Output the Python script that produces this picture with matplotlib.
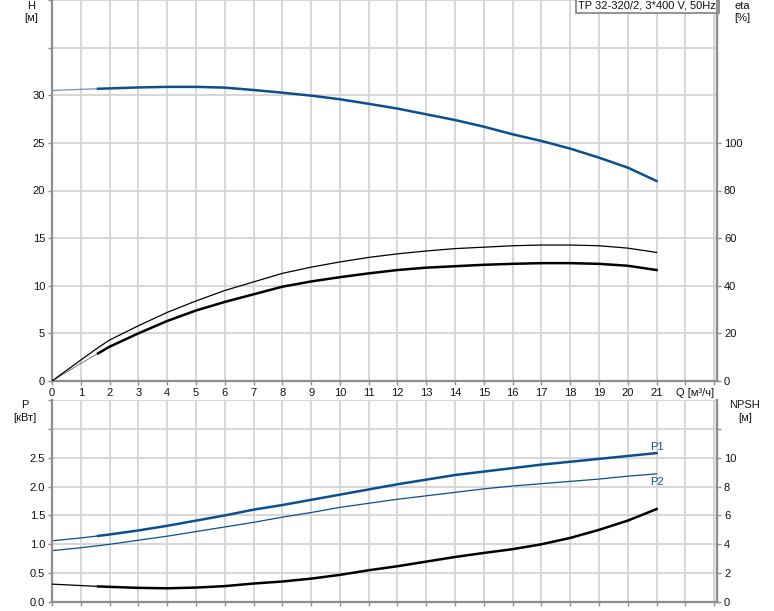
import matplotlib.pyplot as plt
import numpy as np

plt.rcParams['font.family'] = ['Liberation Sans', 'DejaVu Sans']
plt.rcParams['lines.solid_joinstyle'] = 'round'

# flow points [m3/h]
q = [0, 1, 1.6, 2, 3, 4, 5, 6, 7, 8, 9, 10, 11, 12, 13, 14, 15, 16, 17, 18, 19, 20, 21]
# head [m]
head = [30.5, 30.62, 30.68, 30.72, 30.82, 30.88, 30.88, 30.8, 30.55, 30.27, 29.96, 29.58,
        29.1, 28.6, 28.0, 27.4, 26.7, 25.9, 25.2, 24.4, 23.45, 22.4, 21.0]
# efficiencies [%]
eta_upper = [0, 8.8, 14, 17.2, 23.2, 28.8, 33.6, 38, 41.6, 45.2, 47.8, 50, 51.9, 53.4,
             54.6, 55.6, 56.2, 56.8, 57.1, 57.1, 56.8, 55.8, 54]
eta_lower = [0, 7.4, 11.6, 14.4, 20, 25.2, 29.6, 33.2, 36.4, 39.6, 41.8, 43.6, 45.2, 46.6,
             47.6, 48.2, 48.8, 49.2, 49.5, 49.5, 49.2, 48.4, 46.6]
# power [kW]
p1 = [1.06, 1.11, 1.145, 1.17, 1.24, 1.32, 1.41, 1.50, 1.60, 1.68, 1.77, 1.86, 1.95, 2.04,
      2.12, 2.20, 2.26, 2.32, 2.38, 2.43, 2.48, 2.53, 2.58]
p2 = [0.89, 0.94, 0.975, 1.0, 1.07, 1.14, 1.22, 1.30, 1.38, 1.47, 1.55, 1.64, 1.71, 1.78,
      1.84, 1.90, 1.96, 2.01, 2.05, 2.09, 2.13, 2.18, 2.22]
# NPSH [m]
npsh = [1.24, 1.14, 1.08, 1.05, 0.98, 0.95, 1.0, 1.1, 1.28, 1.42, 1.62, 1.88, 2.2, 2.48,
        2.8, 3.12, 3.4, 3.66, 4.0, 4.44, 5.0, 5.64, 6.44]

x_labels = [str(i) for i in range(22)] + ['', '']
h_ticks = [0, 5, 10, 15, 20, 25, 30]
eta_ticks = [0, 20, 40, 60, 80, 100]
p_labels = ['0.0', '0.5', '1.0', '1.5', '2.0', '2.5', '', '']
npsh_ticks = [0, 2, 4, 6, 8, 10, 12]
npsh_labels = ['0', '2', '4', '6', '8', '10', '']
title = 'TP 32-320/2, 3*400 V, 50Hz'

blue = '#0b4f8e'
grid_c = '#d4d4d4'
spine_c = '#8f8f8f'
txt_c = '#111111'
W, H = 774, 611

fig = plt.figure(figsize=(W / 100, H / 100), dpi=100)
ax_h = fig.add_axes([52 / W, 1 - 381 / H, 665 / W, 381 / H])
ax_p = fig.add_axes([52 / W, 1 - 602 / H, 665 / W, 202 / H])


def style(ax):
    ax.set_xlim(0, 23.1)
    ax.set_xticks(range(24))
    ax.grid(True, color=grid_c, lw=1.3)
    ax.set_axisbelow(True)
    ax.spines['top'].set_visible(False)
    for s in ['left', 'bottom', 'right']:
        ax.spines[s].set_color(spine_c)
        ax.spines[s].set_linewidth(1.6)
    ax.tick_params(length=3, width=1, color=spine_c, labelcolor=txt_c, labelsize=8, pad=2)


def twin_style(tw):
    for s in ['left', 'top', 'bottom']:
        tw.spines[s].set_visible(False)
    tw.spines['right'].set_color(spine_c)
    tw.spines['right'].set_linewidth(1.6)
    tw.tick_params(length=3, width=1, color=spine_c, labelcolor=txt_c, labelsize=8, pad=2)


# ---- top: head and efficiency
style(ax_h)
ax_h.set_ylim(0, 40)
ax_h.set_yticks(np.arange(0, 41, 5))
ax_h.set_yticklabels([str(v) if v in h_ticks else '' for v in range(0, 41, 5)])
for t, v in zip(ax_h.yaxis.get_major_ticks(), range(0, 41, 5)):
    if v not in h_ticks:
        t.tick1line.set_visible(False)
ax_h.set_xticklabels(x_labels)
ax_h.annotate('Q [м³/ч]', xy=(22.35, 0), xycoords=('data', 'axes fraction'),
              xytext=(0, -5), textcoords='offset points', ha='center', va='top',
              fontsize=8, color=txt_c)

ax_h.plot(q[:3], head[:3], color=blue, lw=0.9, alpha=0.6)
ax_h.plot(q[2:], head[2:], color=blue, lw=1.8)

ax_e = ax_h.twinx()
twin_style(ax_e)
ax_e.set_ylim(0, 160)
ax_e.set_yticks(eta_ticks)
ax_e.plot(q, eta_upper, color='black', lw=0.9)
ax_e.plot(q[:3], eta_lower[:3], color='black', lw=0.6, alpha=0.6)
ax_e.plot(q[2:], eta_lower[2:], color='black', lw=1.8)

ax_h.text(0.999, 0.999, title, transform=ax_h.transAxes, ha='right', va='top',
          fontsize=8, color=txt_c, zorder=10,
          bbox=dict(facecolor='white', edgecolor='#808080', linewidth=1.2, pad=2))

# ---- bottom: power and NPSH
style(ax_p)
ax_p.set_ylim(0, 3.5)
ax_p.set_yticks(np.arange(0, 3.51, 0.5))
ax_p.set_yticklabels(p_labels)
ax_p.yaxis.get_major_ticks()[-1].tick1line.set_visible(False)
ax_p.set_xticklabels([])

ax_p.plot(q[:3], p1[:3], color=blue, lw=0.9)
ax_p.plot(q[2:], p1[2:], color=blue, lw=1.8)
ax_p.plot(q, p2, color=blue, lw=0.9)
ax_p.annotate('P1', xy=(q[-1], p1[-1]), xytext=(0, 1), textcoords='offset points',
              ha='center', va='bottom', fontsize=8, color=blue)
ax_p.annotate('P2', xy=(q[-1], p2[-1]), xytext=(0, -2), textcoords='offset points',
              ha='center', va='top', fontsize=8, color=blue)

ax_n = ax_p.twinx()
twin_style(ax_n)
ax_n.set_ylim(0, 14)
ax_n.set_yticks(npsh_ticks)
ax_n.set_yticklabels(npsh_labels)
ax_n.plot(q[:3], npsh[:3], color='black', lw=0.9)
ax_n.plot(q[2:], npsh[2:], color='black', lw=1.8)


# ---- axis titles
def label(px, py, s):
    fig.text(px / W, 1 - py / H, s, ha='center', va='center', fontsize=8, color=txt_c)


label(31, 6, 'H')
label(31, 18, '[м]')
label(742, 6, 'eta')
label(742, 18, '[%]')
label(25, 405, 'P')
label(25, 418, '[кВт]')
label(745, 405, 'NPSH')
label(745, 418, '[м]')

fig.savefig('out.png', dpi=100)
